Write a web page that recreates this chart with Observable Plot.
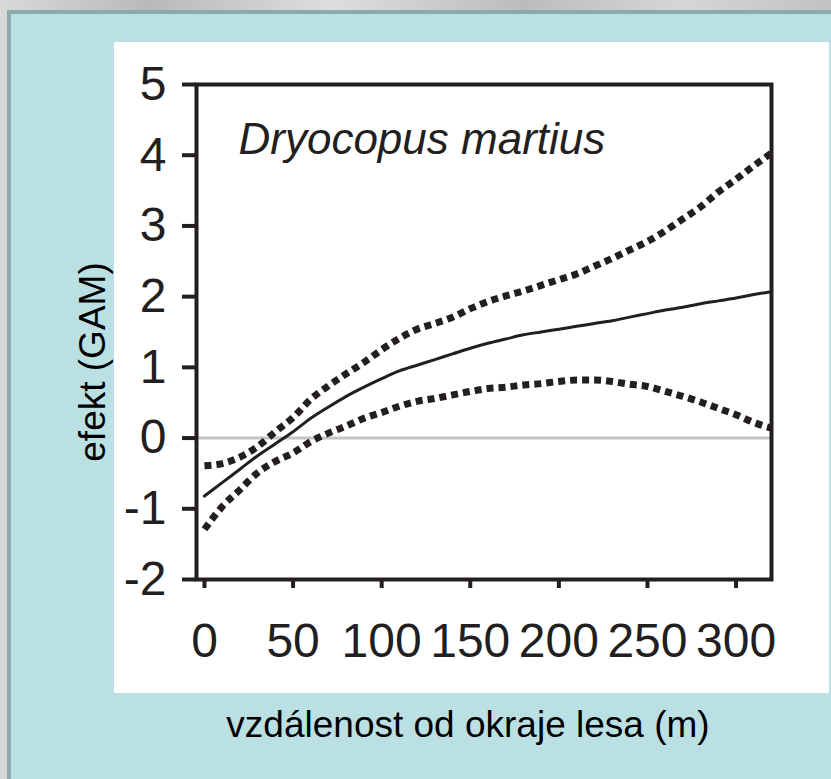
<!DOCTYPE html>
<html><head><meta charset="utf-8">
<script src="https://cdn.jsdelivr.net/npm/d3@7"></script>
<script src="https://cdn.jsdelivr.net/npm/@observablehq/plot@0.6"></script>
<style>
html,body{margin:0;padding:0;}
body{width:831px;height:779px;overflow:hidden;font-family:"Liberation Sans",Arial,sans-serif;}
#page{position:relative;width:831px;height:779px;overflow:hidden;
  background:#c8c8c8 linear-gradient(90deg,#d9d9d9,#b9b9b9 18%,#dedede 40%,#bcbcbc 63%,#d6d6d6 82%,#c2c2c2);}
#blue{position:absolute;left:7px;top:10px;right:0;bottom:0;background:#bbe0e3;border-left:4px solid #8ea9ab;border-top:4px solid #8ea9ab;}
#panel{position:absolute;left:114px;top:42px;width:715px;height:651px;background:#fff;}
#chart{position:absolute;left:0;top:0;}
</style></head><body>
<div id="page"><div id="blue"></div><div id="panel"></div><div id="chart"></div></div>
<script>
// distance from forest edge (m)
const distance = [0,10,20,30,40,50,60,70,80,90,100,110,120,130,140,150,160,170,180,190,200,210,220,230,240,250,260,270,280,290,300,310,320];
// GAM effect: fitted smooth
const fit = [-0.82,-0.63,-0.44,-0.25,-0.08,0.09,0.28,0.44,0.59,0.72,0.84,0.95,1.03,1.11,1.19,1.27,1.34,1.40,1.46,1.50,1.54,1.58,1.62,1.66,1.71,1.76,1.81,1.85,1.90,1.94,1.98,2.03,2.07];
// upper confidence band
const upper = [-0.39,-0.36,-0.27,-0.12,0.09,0.29,0.55,0.74,0.91,1.07,1.25,1.41,1.54,1.62,1.71,1.83,1.93,2.01,2.08,2.16,2.24,2.32,2.43,2.54,2.66,2.78,2.93,3.10,3.27,3.48,3.66,3.85,4.03];
// lower confidence band
const lower = [-1.29,-0.97,-0.73,-0.49,-0.33,-0.21,-0.05,0.07,0.17,0.28,0.36,0.45,0.52,0.56,0.61,0.66,0.70,0.72,0.75,0.77,0.80,0.82,0.82,0.80,0.76,0.73,0.66,0.59,0.51,0.42,0.33,0.22,0.14];

const xTicks = [0,50,100,150,200,250,300];
const yTicks = [-2,-1,0,1,2,3,4,5];
const species = "Dryocopus martius";
const xTitle = "vzdálenost od okraje lesa (m)";
const yTitle = "efekt (GAM)";

const rows = distance.map((d, i) => ({distance: d, fit: fit[i], upper: upper[i], lower: lower[i]}));
const ink = "#231f20";
const font = "'Liberation Sans', Arial, sans-serif";

const chart = Plot.plot({
  width: 831,
  height: 779,
  marginLeft: 196,
  marginRight: 60,
  marginTop: 84,
  marginBottom: 200,
  style: {background: "transparent", fontFamily: font, color: ink, overflow: "visible"},
  x: {domain: [-4.5, 320]},
  y: {domain: [-2, 5]},
  marks: [
    Plot.ruleY([0], {stroke: "#c4c4c4", strokeWidth: 3}),
    Plot.line(rows, {x: "distance", y: "upper", stroke: ink, strokeWidth: 7, strokeDasharray: "7 5", strokeLinecap: "butt", strokeLinejoin: "miter", curve: "monotone-x"}),
    Plot.line(rows, {x: "distance", y: "lower", stroke: ink, strokeWidth: 7, strokeDasharray: "7 5", strokeLinecap: "butt", strokeLinejoin: "miter", curve: "monotone-x"}),
    Plot.line(rows, {x: "distance", y: "fit", stroke: ink, strokeWidth: 3, curve: "monotone-x"}),
    Plot.frame({stroke: ink, strokeWidth: 4}),
    Plot.axisX(xTicks, {tickSize: 9, tickPadding: 34, fontSize: 48, strokeWidth: 4, label: null, tickFormat: d => String(d), fill: ink}),
    Plot.axisY(yTicks, {tickSize: 14, tickPadding: 16, fontSize: 48, strokeWidth: 4, label: null, tickFormat: d => String(d), fill: ink}),
    Plot.text([species], {text: d => d, frameAnchor: "top-left", textAnchor: "start", lineAnchor: "top", dx: 42, dy: 38, fontSize: 44, fontStyle: "italic", fill: ink}),
    Plot.text([xTitle], {text: d => d, frameAnchor: "bottom", textAnchor: "middle", lineAnchor: "middle", dx: -16, dy: 146, fontSize: 37, fill: "#000"}),
    Plot.text([yTitle], {text: d => d, frameAnchor: "left", textAnchor: "middle", lineAnchor: "middle", rotate: -90, dx: -103, dy: 30, fontSize: 37, fill: "#000"})
  ]
});
document.getElementById("chart").appendChild(chart);
</script>
</body></html>
